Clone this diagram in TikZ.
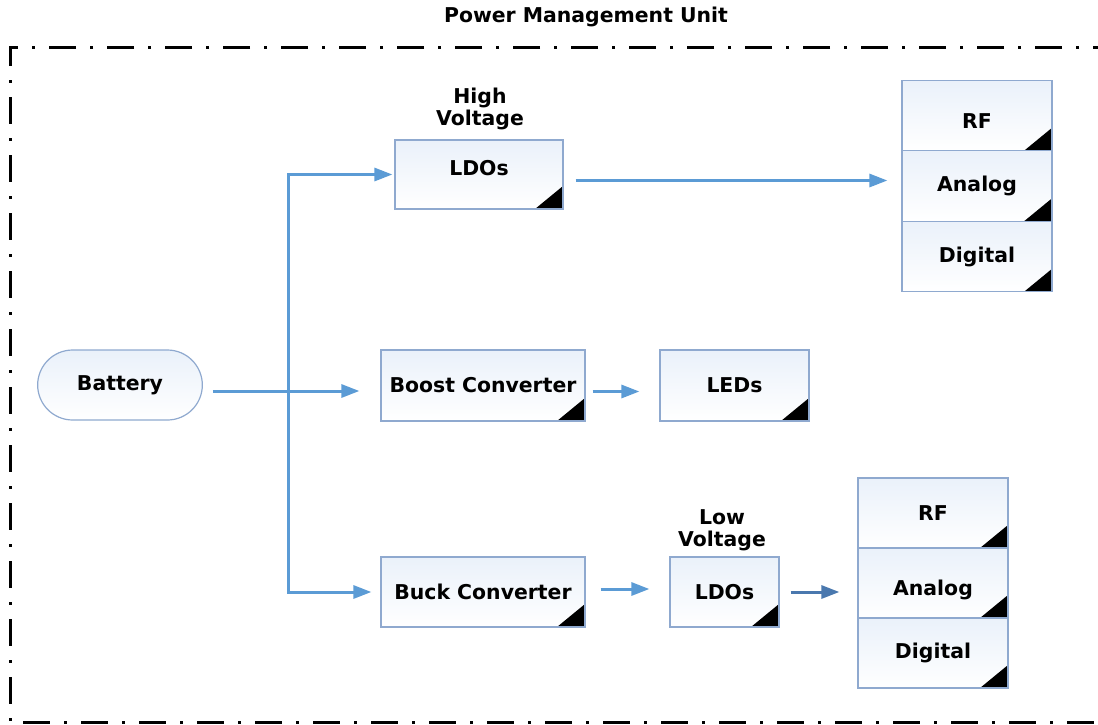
\documentclass[tikz,border=0pt]{standalone}
\usepackage{fontspec}
\setmainfont{DejaVu Sans}
\usetikzlibrary{arrows.meta, shapes.misc}

\definecolor{wireblue}{HTML}{5B9BD5}
\definecolor{wiredark}{HTML}{4A78AE}
\definecolor{boxedge}{HTML}{8FA9CF}
\definecolor{cellblue}{HTML}{EAF1FA}

\tikzset{
    unit/.style={draw=boxedge, line width=0.6pt, top color=cellblue, bottom color=white,
        inner sep=0pt,
        path picture={\fill[black] (path picture bounding box.south east)
            -- ++(-14pt,0) -- ++(14pt,11.5pt) -- cycle;}},
    source/.style={rounded rectangle, draw=boxedge, line width=0.6pt,
        top color=cellblue, bottom color=white},
    feed/.style={draw=wireblue, line width=1.5pt, -{Triangle[length=9pt,width=6.5pt]}},
    frame/.style={line width=1.5pt, dash pattern=on 13.5pt off 7pt on 1.5pt off 7pt},
}

\begin{document}
\begin{tikzpicture}[x=0.5pt, y=-0.5pt, font=\fontsize{10.2}{11}\selectfont\bfseries]
    \useasboundingbox (0,0) rectangle (1098,724);

    \node (title) at (586,17) {Power Management Unit};
    \draw[frame] (1120,47) -- (10,47) -- (10,722) -- (1120,722);

    \node[source, minimum width=89pt, minimum height=35pt] (batt) at (120,385) {Battery};

    \node[unit, minimum width=84pt, minimum height=34.5pt, text depth=7pt] (hv) at (479,174.5) {LDOs};
    \node[align=center] (hvlab) at (480,109) {High\\Voltage};
    \node[unit, minimum width=102pt, minimum height=35.5pt] (boost) at (483,385.5) {Boost Converter};
    \node[unit, minimum width=74.5pt, minimum height=35.5pt] (leds) at (734.5,385.5) {LEDs};
    \node[unit, minimum width=102pt, minimum height=35pt] (buck) at (483,592) {Buck Converter};
    \node[unit, minimum width=54.5pt, minimum height=35pt] (lv) at (724.5,592) {LDOs};
    \node[align=center] (lvlab) at (722,530) {Low\\Voltage};

    % loads, high voltage side
    \node[unit, minimum width=75pt, minimum height=35.3pt, text height=13pt] (rfA) at (977,115.5) {RF};
    \node[unit, minimum width=75pt, minimum height=35.3pt] (anaA) at (977,186) {Analog};
    \node[unit, minimum width=75pt, minimum height=35.3pt] (digA) at (977,256.5) {Digital};

    % loads, low voltage side
    \node[unit, minimum width=75pt, minimum height=35pt] (rfB) at (933,513) {RF};
    \node[unit, minimum width=75pt, minimum height=35pt, text height=15pt] (anaB) at (933,583) {Analog};
    \node[unit, minimum width=75pt, minimum height=35pt] (digB) at (933,653) {Digital};

    \coordinate (split) at (288,391);

    \draw[feed, shorten <=5pt, shorten >=10.5pt] ([yshift=-3pt]batt.east) -- ([yshift=-3pt]batt.east -| boost.west);
    \draw[feed, shorten >=1pt] (split) |- (hv.west);
    \draw[feed, shorten >=4.5pt] (split) |- (buck.west);

    \draw[feed, shorten <=6pt, shorten >=7pt] ([yshift=-3pt]hv.east) -- ([yshift=-3pt]hv.east -| anaA.west);
    \draw[feed, shorten <=3.5pt, shorten >=10pt] ([yshift=-3pt]boost.east) -- ([yshift=-3pt]leds.west);
    \draw[feed, shorten <=7.5pt, shorten >=10pt] ([yshift=1.5pt]buck.east) -- ([yshift=1.5pt]lv.west);
    \draw[feed, draw=wiredark, shorten <=5.5pt, shorten >=9pt] (lv.east) -- (lv.east -| anaB.west);
\end{tikzpicture}
\end{document}
